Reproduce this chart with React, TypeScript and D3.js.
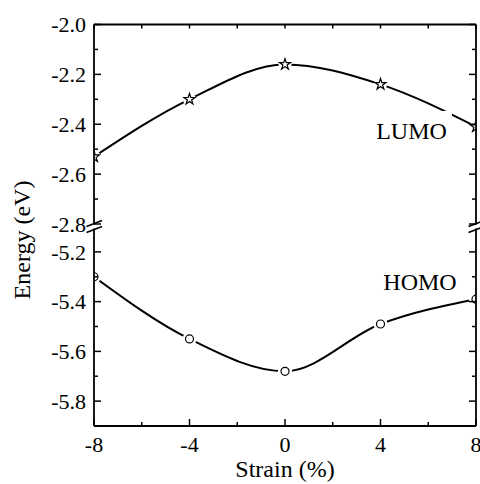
import React from "react";
import * as d3 from "d3";

const strain = [-8, -4, 0, 4, 8];
const lumo = [-2.53, -2.3, -2.16, -2.24, -2.41];
const homo = [-5.3, -5.55, -5.68, -5.49, -5.39];
const xTickLabels = [-8, -4, 0, 4, 8];
const xMinorTicks = [-6, -2, 2, 6];
const upperMajor = [-2.0, -2.2, -2.4, -2.6, -2.8];
const upperMinor = [-2.1, -2.3, -2.5, -2.7];
const lowerMajor = [-5.2, -5.4, -5.6, -5.8];
const lowerMinor = [-5.3, -5.5, -5.7];

const W = 480, H = 484;
const L = 94, R = 476, T = 24.5, B = 426;
const FONT = "'Liberation Serif', 'Times New Roman', serif";

export default function App() {
  const x = d3.scaleLinear().domain([-8, 8]).range([L, R]);
  const yUp = d3.scaleLinear().domain([-2.8, -2.0]).range([224, T]);
  const yLo = d3.scaleLinear().domain([-5.9, -5.1]).range([B, 227]);
  const breakTop = 224.5, breakBot = 228.5;

  const lineUp = d3.line<number>().x((_, i) => x(strain[i])).y(d => yUp(d)).curve(d3.curveMonotoneX);
  const lineLo = d3.line<number>().x((_, i) => x(strain[i])).y(d => yLo(d)).curve(d3.curveMonotoneX);

  const star = d3.symbol().type(d3.symbolStar).size(38)() as string;

  const ticksV = (vals: number[], sc: (v: number) => number, len: number, key: string) =>
    vals.map(v => (
      <g key={key + v}>
        <line x1={L} x2={L + len} y1={sc(v)} y2={sc(v)} stroke="#000" strokeWidth={1.5} />
        <line x1={R} x2={R - len} y1={sc(v)} y2={sc(v)} stroke="#000" strokeWidth={1.5} />
      </g>
    ));

  return (
    <svg width={W} height={H} style={{ position: "absolute", left: 0, top: 0, background: "#fff" }} fontFamily={FONT}>
      <defs>
        <clipPath id="plot">
          <rect x={L} y={T} width={R - L} height={B - T} />
        </clipPath>
      </defs>
      {/* curves */}
      <g clipPath="url(#plot)">
        <path d={lineUp(lumo) as string} fill="none" stroke="#000" strokeWidth={2} />
        <path d={lineLo(homo) as string} fill="none" stroke="#000" strokeWidth={2} />
        {lumo.map((v, i) => (
          <circle key={"lh" + i} cx={x(strain[i])} cy={yUp(v)} r={6.5} fill="#fff" />
        ))}
        {homo.map((v, i) => (
          <circle key={"hh" + i} cx={x(strain[i])} cy={yLo(v)} r={7} fill="#fff" />
        ))}
        {lumo.map((v, i) => (
          <path key={"ls" + i} d={star} transform={`translate(${x(strain[i])},${yUp(v)})`} fill="#fff" stroke="#000" strokeWidth={1.2} />
        ))}
        {homo.map((v, i) => (
          <circle key={"hc" + i} cx={x(strain[i])} cy={yLo(v)} r={4} fill="#fff" stroke="#000" strokeWidth={1.2} />
        ))}
      </g>
      {/* label backgrounds and labels */}
      <rect x={373} y={111} width={79} height={34} fill="#fff" />
      <text x={411.5} y={139} fontSize={24} textAnchor="middle">LUMO</text>
      <text x={420} y={290} fontSize={24} textAnchor="middle">HOMO</text>

      {/* frame */}
      <line x1={L} x2={R} y1={T} y2={T} stroke="#000" strokeWidth={1.8} />
      <line x1={L} x2={R} y1={B} y2={B} stroke="#000" strokeWidth={1.8} />
      <line x1={L} x2={L} y1={T} y2={breakTop} stroke="#000" strokeWidth={1.8} />
      <line x1={L} x2={L} y1={breakBot} y2={B} stroke="#000" strokeWidth={1.8} />
      <line x1={R} x2={R} y1={T} y2={breakTop} stroke="#000" strokeWidth={1.8} />
      <line x1={R} x2={R} y1={breakBot} y2={B} stroke="#000" strokeWidth={1.8} />
      {/* break marks */}
      {[L, R].map(px => (
        <g key={"br" + px}>
          <line x1={px - 7.5} x2={px + 8} y1={breakTop + 2} y2={breakTop - 4} stroke="#000" strokeWidth={1.6} />
          <line x1={px - 7.5} x2={px + 8} y1={breakBot + 4} y2={breakBot - 2} stroke="#000" strokeWidth={1.6} />
        </g>
      ))}

      {/* y ticks */}
      {ticksV(upperMajor, yUp, 7, "um")}
      {ticksV(upperMinor, yUp, 4, "un")}
      {ticksV(lowerMajor, yLo, 7, "lm")}
      {ticksV(lowerMinor, yLo, 4, "ln")}
      {/* x ticks */}
      {xTickLabels.map(v => (
        <g key={"xm" + v}>
          <line x1={x(v)} x2={x(v)} y1={B} y2={B - 7} stroke="#000" strokeWidth={1.5} />
          <line x1={x(v)} x2={x(v)} y1={T} y2={T + 4} stroke="#000" strokeWidth={1.5} />
        </g>
      ))}
      {xMinorTicks.map(v => (
        <g key={"xn" + v}>
          <line x1={x(v)} x2={x(v)} y1={B} y2={B - 4} stroke="#000" strokeWidth={1.5} />
          <line x1={x(v)} x2={x(v)} y1={T} y2={T + 4} stroke="#000" strokeWidth={1.5} />
        </g>
      ))}

      {/* tick labels */}
      {upperMajor.map(v => (
        <text key={"tu" + v} x={86} y={yUp(v)} dy="0.35em" fontSize={22} textAnchor="end">{v.toFixed(1)}</text>
      ))}
      {lowerMajor.map(v => (
        <text key={"tl" + v} x={86} y={yLo(v)} dy="0.35em" fontSize={22} textAnchor="end">{v.toFixed(1)}</text>
      ))}
      {xTickLabels.map(v => (
        <text key={"tx" + v} x={x(v)} y={452} fontSize={22} textAnchor="middle">{String(v)}</text>
      ))}

      {/* axis titles */}
      <text x={(L + R) / 2} y={477} fontSize={24} textAnchor="middle">Strain (%)</text>
      <text transform="translate(30,240) rotate(-90)" fontSize={24} textAnchor="middle">Energy (eV)</text>
    </svg>
  );
}
